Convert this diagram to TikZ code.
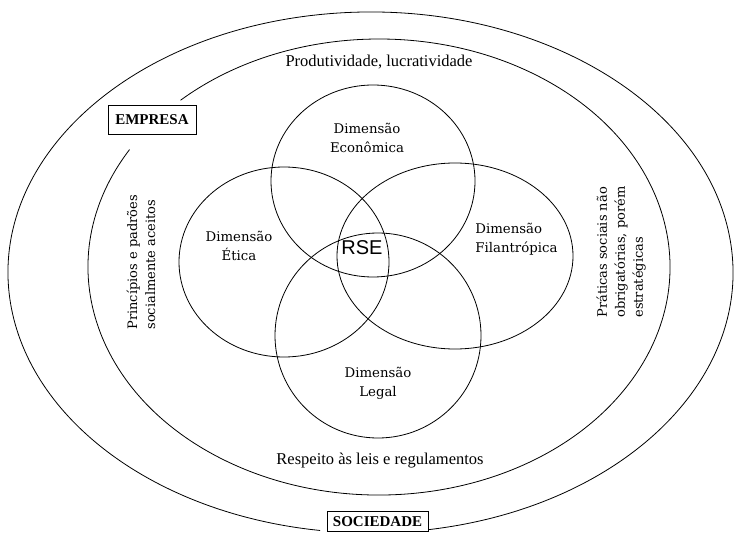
\documentclass[tikz,border=0pt]{standalone}
\usepackage{fontspec}
\setmainfont{Liberation Serif}
\newfontfamily\dimfont{DejaVu Serif}
\newfontfamily\rsefont{Liberation Sans}
\usetikzlibrary{shapes.geometric, positioning}

\begin{document}
\begin{tikzpicture}[
		x=1pt, y=1pt,
		line width=0.8pt,
		dim/.style={ellipse, draw, inner sep=0pt},
		dimlabel/.style={font=\dimfont\fontsize{13.3}{19}\selectfont, align=center, inner sep=0pt},
		ringlabel/.style={font=\fontsize{16.5}{20}\selectfont, inner sep=0pt},
		sidelabel/.style={font=\dimfont\fontsize{13}{18}\selectfont, align=left, rotate=90, anchor=west, inner sep=0pt},
		tag/.style={rectangle, draw, fill=white, font=\bfseries\fontsize{15}{18}\selectfont, inner sep=0pt}
		]
		
		\useasboundingbox (0,0) rectangle (738,536);
		
		% Rings - SOCIEDADE (outer) and EMPRESA (inner)
		\coordinate (soc_c) at (370.5,263.5);
		\coordinate (emp_c) at (379,269);
		\draw ([shift={(278:362.5 and 260.5)}]soc_c) arc[start angle=278, end angle=622, x radius=362.5, y radius=260.5];
		\draw ([shift={(149:291 and 228)}]emp_c) arc[start angle=149, end angle=493, x radius=291, y radius=228];
		
		\node[tag, minimum width=101, minimum height=20] (sociedade) at (377.5,14.5) {SOCIEDADE};
		\node[tag, minimum width=88, minimum height=29] (empresa) at (152,416) {EMPRESA};
		
		% Four dimensions
		\node[dim, minimum width=204, minimum height=192] (eco) at (373,355) {};
		\node[dim, minimum width=210, minimum height=190] (etica) at (284,274) {};
		\node[dim, minimum width=236, minimum height=186] (filan) at (455,280) {};
		\node[dim, minimum width=206, minimum height=205] (legal) at (378,200.5) {};
		
		\node[dimlabel] (eco_label) at (367,398) {Dimensão\\Econômica};
		\node[dimlabel] (etica_label) at (239,290) {Dimensão\\Ética};
		\node[dimlabel, align=left, anchor=west] (filan_label) at (475,297) {Dimensão\\Filantrópica};
		\node[dimlabel] (legal_label) at (378,153) {Dimensão\\Legal};
		\node[font=\rsefont\fontsize{20}{24}\selectfont, inner sep=0pt] (rse) at (362,288) {RSE};
		
		% Texts between the rings
		\node[ringlabel] (produt) at (379,474) {Produtividade, lucratividade};
		\node[ringlabel] (respeito) at (380,75) {Respeito às leis e regulamentos};
		\node[sidelabel] (principios) at (141,206) {Princípios e padrões\\socialmente aceitos};
		\node[sidelabel] (praticas) at (621,218) {Práticas sociais não\\obrigatórias, porém\\estratégicas};
		
	\end{tikzpicture}
\end{document}
